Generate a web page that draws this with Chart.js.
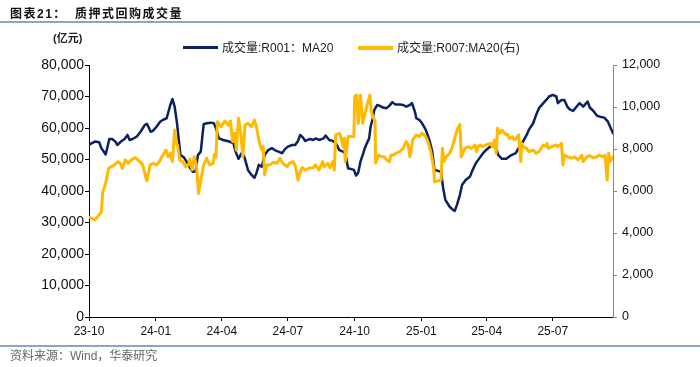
<!DOCTYPE html>
<html><head><meta charset="utf-8">
<script src="https://cdn.jsdelivr.net/npm/chart.js@4.4.1/dist/chart.umd.min.js"></script>
<style>
html,body{margin:0;padding:0;background:#fff;}
#wrap{position:relative;width:700px;height:367px;overflow:hidden;background:#fff;font-family:"Liberation Sans","Noto Sans CJK SC",sans-serif;}
#c{position:absolute;left:0;top:0;}
.abs{position:absolute;white-space:nowrap;z-index:2;}
.title{left:10px;top:6px;font-size:12px;line-height:16px;font-weight:bold;color:#111;letter-spacing:1.5px;font-family:"Liberation Sans","Noto Sans CJK SC",sans-serif;}
.hline{left:0;width:700px;height:2px;background:#8ba6c3;}
.unit{left:53px;top:31px;font-size:11px;line-height:14px;font-weight:bold;color:#222;}
.leg{top:41px;font-size:12px;line-height:14px;color:#222;}
.sw{position:absolute;width:35px;}
.src{left:10px;top:349px;font-size:12px;line-height:14px;color:#666;}
</style></head>
<body>
<div id="wrap">
  <div class="abs title">图表21：</div>
  <div class="abs title" style="left:75px">质押式回购成交量</div>
  <div class="abs hline" style="top:21px"></div>
  <div class="abs unit">(亿元)</div>
  <div class="abs sw" style="left:183px;top:46px;height:3px;background:#0b2160"></div>
  <div class="abs leg" style="left:222px">成交量:R001：MA20</div>
  <div class="abs sw" style="left:358px;top:46px;height:4px;background:#ffb900"></div>
  <div class="abs leg" style="left:397px">成交量:R007:MA20(右)</div>
  <canvas id="c" width="700" height="367"></canvas>
  <div class="abs hline" style="top:345px"></div>
  <div class="abs src">资料来源：Wind，华泰研究</div>
</div>
<script>
const seriesNames = ['成交量:R001：MA20', '成交量:R007:MA20(右)'];
const axisStart = '2023-10-09';
const axisEnd = '2025-09-30';
const tickDates = ['2023-10-09','2024-01-09','2024-04-09','2024-07-09','2024-10-09','2025-01-09','2025-04-09','2025-07-09'];
const tickLabels = ['23-10','24-01','24-04','24-07','24-10','25-01','25-04','25-07'];

const r001Dates = ['2023-10-10','2023-10-17','2023-10-23','2023-10-26','2023-11-01','2023-11-06','2023-11-10','2023-11-15','2023-11-17','2023-11-22','2023-11-27','2023-12-01','2023-12-04','2023-12-08','2023-12-14','2023-12-19','2023-12-25','2023-12-28','2024-01-02','2024-01-05','2024-01-10','2024-01-15','2024-01-19','2024-01-24','2024-01-29','2024-02-01','2024-02-04','2024-02-07','2024-02-09','2024-02-12','2024-02-17','2024-02-20','2024-02-25','2024-02-29','2024-03-04','2024-03-07','2024-03-11','2024-03-15','2024-03-19','2024-03-25','2024-03-29','2024-04-01','2024-04-05','2024-04-11','2024-04-19','2024-04-25','2024-04-28','2024-05-02','2024-05-06','2024-05-10','2024-05-15','2024-05-20','2024-05-24','2024-05-27','2024-05-30','2024-06-03','2024-06-07','2024-06-12','2024-06-17','2024-06-21','2024-06-26','2024-07-01','2024-07-05','2024-07-09','2024-07-15','2024-07-19','2024-07-23','2024-07-26','2024-07-30','2024-08-02','2024-08-08','2024-08-13','2024-08-16','2024-08-22','2024-08-27','2024-08-30','2024-09-04','2024-09-09','2024-09-13','2024-09-18','2024-09-23','2024-09-26','2024-09-30','2024-10-08','2024-10-11','2024-10-14','2024-10-17','2024-10-21','2024-10-23','2024-10-26','2024-10-29','2024-10-31','2024-11-03','2024-11-05','2024-11-09','2024-11-12','2024-11-17','2024-11-22','2024-11-26','2024-11-30','2024-12-04','2024-12-10','2024-12-15','2024-12-19','2024-12-24','2024-12-27','2024-12-31','2025-01-02','2025-01-06','2025-01-10','2025-01-15','2025-01-20','2025-01-24','2025-01-27','2025-02-05','2025-02-08','2025-02-11','2025-02-17','2025-02-20','2025-02-24','2025-02-27','2025-03-03','2025-03-06','2025-03-11','2025-03-17','2025-03-20','2025-03-25','2025-03-28','2025-04-04','2025-04-08','2025-04-14','2025-04-17','2025-04-22','2025-04-25','2025-04-30','2025-05-06','2025-05-13','2025-05-19','2025-05-23','2025-05-29','2025-06-03','2025-06-06','2025-06-12','2025-06-16','2025-06-20','2025-06-26','2025-06-30','2025-07-04','2025-07-09','2025-07-14','2025-07-16','2025-07-21','2025-07-25','2025-07-29','2025-08-01','2025-08-06','2025-08-11','2025-08-15','2025-08-20','2025-08-26','2025-08-29','2025-09-03','2025-09-08','2025-09-12','2025-09-18','2025-09-23','2025-09-30'];
const r001Values = [54800,55700,55500,53600,51600,56500,56500,55500,54600,55700,56500,57800,56200,56500,57300,58800,61000,61300,58800,59100,60400,62000,62600,63100,67300,69200,66800,62000,57800,51400,50600,49500,47400,46100,46300,51400,52500,61200,61500,61700,61500,59900,56700,56200,55700,55200,52500,50200,52000,50900,46700,45100,44200,45900,48300,47700,51400,53000,53600,53000,52500,52000,53300,54100,54600,54600,55900,57800,56900,55900,56500,56200,56700,56200,56700,57600,56200,55900,55200,53000,52500,52000,47200,46700,44900,45900,49300,52000,53600,55200,56700,60400,63100,65700,67300,67100,66500,66300,67100,68200,67500,67500,67300,66800,67300,67900,65200,63100,62600,61500,59400,56200,52500,46700,46100,40900,37200,35000,34300,33700,35600,38700,41900,43500,44600,46400,48800,49800,52000,53000,54100,54600,53600,51400,50200,50200,51400,52000,53600,55700,57800,59400,61500,64100,66300,67900,68900,70000,70500,70000,67900,68900,68900,66800,66000,65400,66800,67900,66800,68400,66500,65400,63900,63600,63300,62000,58300];

const r007Dates = ['2023-10-10','2023-10-17','2023-10-21','2023-10-26','2023-10-28','2023-11-01','2023-11-05','2023-11-09','2023-11-13','2023-11-18','2023-11-21','2023-11-24','2023-11-28','2023-12-02','2023-12-06','2023-12-12','2023-12-18','2023-12-22','2023-12-26','2023-12-28','2024-01-01','2024-01-05','2024-01-10','2024-01-14','2024-01-19','2024-01-23','2024-01-26','2024-01-29','2024-02-01','2024-02-04','2024-02-06','2024-02-08','2024-02-11','2024-02-15','2024-02-19','2024-02-23','2024-02-25','2024-02-28','2024-03-02','2024-03-05','2024-03-08','2024-03-12','2024-03-15','2024-03-19','2024-03-23','2024-03-28','2024-03-30','2024-04-01','2024-04-03','2024-04-08','2024-04-13','2024-04-18','2024-04-21','2024-04-24','2024-04-27','2024-04-29','2024-05-02','2024-05-05','2024-05-08','2024-05-11','2024-05-15','2024-05-20','2024-05-24','2024-05-27','2024-05-31','2024-06-03','2024-06-05','2024-06-07','2024-06-10','2024-06-14','2024-06-19','2024-06-24','2024-06-28','2024-07-02','2024-07-08','2024-07-11','2024-07-16','2024-07-19','2024-07-23','2024-07-26','2024-07-29','2024-08-02','2024-08-07','2024-08-13','2024-08-16','2024-08-21','2024-08-26','2024-08-28','2024-09-02','2024-09-05','2024-09-09','2024-09-11','2024-09-13','2024-09-18','2024-09-20','2024-09-23','2024-09-25','2024-09-26','2024-09-30','2024-10-08','2024-10-09','2024-10-12','2024-10-14','2024-10-17','2024-10-20','2024-10-23','2024-10-25','2024-10-28','2024-10-30','2024-11-01','2024-11-04','2024-11-06','2024-11-07','2024-11-11','2024-11-15','2024-11-19','2024-11-22','2024-11-26','2024-11-28','2024-12-02','2024-12-05','2024-12-10','2024-12-15','2024-12-19','2024-12-22','2024-12-24','2024-12-26','2024-12-28','2025-01-02','2025-01-06','2025-01-10','2025-01-15','2025-01-18','2025-01-22','2025-01-26','2025-01-27','2025-02-05','2025-02-07','2025-02-09','2025-02-12','2025-02-17','2025-02-20','2025-02-24','2025-02-28','2025-03-03','2025-03-05','2025-03-10','2025-03-14','2025-03-19','2025-03-24','2025-03-26','2025-03-28','2025-03-31','2025-04-03','2025-04-08','2025-04-14','2025-04-17','2025-04-20','2025-04-22','2025-04-24','2025-04-27','2025-04-30','2025-05-06','2025-05-08','2025-05-10','2025-05-14','2025-05-17','2025-05-20','2025-05-23','2025-05-26','2025-05-27','2025-05-29','2025-06-03','2025-06-06','2025-06-12','2025-06-16','2025-06-20','2025-06-26','2025-06-30','2025-07-01','2025-07-03','2025-07-08','2025-07-14','2025-07-16','2025-07-21','2025-07-23','2025-07-25','2025-07-30','2025-08-04','2025-08-08','2025-08-13','2025-08-18','2025-08-20','2025-08-25','2025-08-29','2025-09-02','2025-09-08','2025-09-11','2025-09-16','2025-09-19','2025-09-22','2025-09-24','2025-09-26','2025-09-30'];
const r007Values = [4730,4620,4780,5010,5970,6370,7080,7160,7240,7400,7320,7080,7480,7320,7480,7590,7400,7240,6680,6490,7240,7320,7240,7400,7710,7950,7630,7800,7400,8900,8270,8190,7480,7400,7160,7240,7520,7000,7630,7240,5890,6680,7240,7560,7240,7320,7750,7630,9300,9060,9330,9140,9330,8350,8750,7950,9460,8820,7630,9140,9220,9060,9380,8990,8270,7950,8110,6760,7240,7240,7370,7320,7560,7320,7160,7320,7400,7240,6520,6920,7110,7000,7080,7110,7240,7000,7400,7160,7320,7110,7400,7000,8670,8750,8590,8110,8510,7400,8590,8590,10500,10570,9220,10570,9220,9620,9940,10330,10570,9780,9460,9380,7320,7710,7630,7630,7480,7400,7710,7710,7800,7870,8030,8350,8190,7630,7950,8430,8670,8590,8750,8590,8350,7870,7080,6440,6520,8030,7400,7630,7800,8030,8510,8990,9170,7630,8030,8110,8030,8190,7870,8110,8190,8110,8190,8270,8110,8430,7800,8990,8750,8900,8670,8700,8510,8590,8430,8510,8670,7400,8270,8110,8030,7870,7950,7800,7870,8190,8110,8270,8030,8110,8190,8110,8270,7240,7710,7630,7560,7630,7480,7710,7400,7630,7680,7590,7630,7710,7630,7710,6520,7800,7400,7630];

function dayOf(s){
  const p = s.split('-').map(Number);
  const a = axisStart.split('-').map(Number);
  return Math.round((Date.UTC(p[0],p[1]-1,p[2]) - Date.UTC(a[0],a[1]-1,a[2])) / 86400000);
}
const tickDays = tickDates.map(dayOf);
const toPts = (ds, vs) => ds.map((d,i) => ({x: dayOf(d), y: vs[i]}));
const fmt = v => Number(v).toLocaleString('en-US');
const FONT = "'Liberation Sans', Arial, sans-serif";

new Chart(document.getElementById('c'), {
  type: 'line',
  data: {
    datasets: [
      {label: seriesNames[0], data: toPts(r001Dates, r001Values), yAxisID: 'y', borderColor: '#0b2160', borderWidth: 2.5, order: 1},
      {label: seriesNames[1], data: toPts(r007Dates, r007Values), yAxisID: 'y1', borderColor: '#ffb900', borderWidth: 3, order: 0}
    ]
  },
  options: {
    responsive: false,
    animation: false,
    devicePixelRatio: 1,
    parsing: true,
    elements: {point: {radius: 0, hoverRadius: 0}, line: {tension: 0, borderJoinStyle: 'round', borderCapStyle: 'round'}},
    layout: {padding: {top: 65, left: 0, right: 0, bottom: 0}},
    plugins: {legend: {display: false}, tooltip: {enabled: false}},
    scales: {
      x: {
        type: 'linear', position: 'bottom',
        min: 0, max: dayOf(axisEnd),
        afterBuildTicks: s => { s.ticks = tickDays.map(v => ({value: v})); },
        afterFit: s => { s.height = 50; },
        ticks: {autoSkip: false, maxRotation: 0, padding: 3, color: '#111', font: {family: FONT, size: 12},
          callback: v => { const i = tickDays.indexOf(v); return i >= 0 ? tickLabels[i] : ''; }},
        grid: {display: true, drawOnChartArea: false, drawTicks: true, tickLength: 4, color: '#000', tickColor: '#000'},
        border: {display: true, color: '#000', width: 1}
      },
      y: {
        type: 'linear', position: 'left', min: 0, max: 80000,
        afterFit: s => { s.width = 89; },
        ticks: {stepSize: 10000, padding: 1, color: '#111', font: {family: FONT, size: 14}, callback: fmt},
        grid: {display: true, drawOnChartArea: false, drawTicks: true, tickLength: 4, color: '#000', tickColor: '#000'},
        border: {display: true, color: '#000', width: 1}
      },
      y1: {
        type: 'linear', position: 'right', min: 0, max: 12000,
        afterFit: s => { s.width = 87; },
        ticks: {stepSize: 2000, padding: 5, color: '#111', font: {family: FONT, size: 12.5}, callback: fmt},
        grid: {display: true, drawOnChartArea: false, drawTicks: true, tickLength: 4, color: '#888', tickColor: '#888'},
        border: {display: true, color: '#888', width: 1}
      }
    }
  }
});
</script>
</body></html>
